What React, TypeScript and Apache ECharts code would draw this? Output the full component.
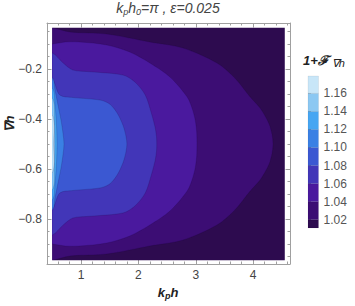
import React, { useEffect, useRef } from "react";
import * as echarts from "echarts";

// ---- data ----
const X_DATA = [0.5, 4.55];
const Y_DATA = [-0.965, -0.035];
const X_AXIS = [0.408, 4.641];
const Y_AXIS = [-0.98, -0.016];

const contourLevels = [1.02, 1.04, 1.06, 1.08, 1.1, 1.12, 1.14, 1.16];

const contour102: number[][] = [
  [0.5, -0.035], [0.81, -0.052], [1.45, -0.06], [2.2, -0.092], [2.78, -0.116], [3.37, -0.176],
  [3.68, -0.236], [3.94, -0.31], [4.12, -0.356], [4.245, -0.404], [4.29, -0.428], [4.33, -0.464], [4.345, -0.5],
  [4.33, -0.536], [4.29, -0.572], [4.245, -0.596], [4.12, -0.644], [3.94, -0.69], [3.68, -0.764], [3.37, -0.824],
  [2.78, -0.884], [2.2, -0.908], [1.45, -0.94], [0.81, -0.948], [0.5, -0.965],
];
const contour104: number[][] = [
  [0.5, -0.1], [0.72, -0.092], [0.98, -0.092], [1.45, -0.104], [1.85, -0.132], [2.2, -0.176],
  [2.55, -0.232], [2.85, -0.312], [2.94, -0.36], [2.99, -0.404], [3.015, -0.45], [3.02, -0.5],
  [3.015, -0.55], [2.99, -0.596], [2.94, -0.64], [2.85, -0.688], [2.55, -0.768], [2.2, -0.824],
  [1.85, -0.868], [1.45, -0.896], [0.98, -0.908], [0.72, -0.908], [0.5, -0.9],
];
const contour106: number[][] = [
  [0.5, -0.136], [0.69, -0.176], [0.86, -0.204], [1.16, -0.211], [1.73, -0.224], [1.94, -0.252],
  [2.12, -0.304], [2.22, -0.372], [2.29, -0.432], [2.315, -0.47], [2.32, -0.5], [2.315, -0.53], [2.29, -0.568],
  [2.22, -0.628], [2.12, -0.696], [1.94, -0.748], [1.73, -0.776], [1.16, -0.789], [0.86, -0.796], [0.69, -0.824], [0.5, -0.864],
];
const contour108: number[][] = [
  [0.5, -0.244], [0.63, -0.304], [0.86, -0.314], [1.33, -0.324], [1.5, -0.34], [1.63, -0.376],
  [1.73, -0.424], [1.78, -0.464], [1.8, -0.5], [1.78, -0.536], [1.73, -0.576], [1.63, -0.624],
  [1.5, -0.66], [1.33, -0.676], [0.86, -0.686], [0.63, -0.696], [0.5, -0.756],
];
const contour110: number[][] = [
  [0.5, -0.236], [0.547, -0.284], [0.599, -0.344], [0.652, -0.404], [0.686, -0.456], [0.704, -0.5],
  [0.686, -0.544], [0.652, -0.596], [0.599, -0.656], [0.547, -0.716], [0.5, -0.764],
];
const contour112: number[][] = [
  [0.5, -0.276], [0.547, -0.344], [0.573, -0.424], [0.582, -0.5], [0.573, -0.576], [0.547, -0.656], [0.5, -0.724],
];
const contour114: number[][] = [
  [0.5, -0.316], [0.535, -0.404], [0.544, -0.5], [0.535, -0.596], [0.5, -0.684],
];
const contour116: number[][] = [
  [0.5, -0.384], [0.523, -0.5], [0.5, -0.616],
];
const contours = [contour102, contour104, contour106, contour108, contour110, contour112, contour114, contour116];

const barEdges = [1.0108, 1.02, 1.04, 1.06, 1.08, 1.1, 1.12, 1.14, 1.16, 1.1792];
const barTicks = [1.02, 1.04, 1.06, 1.08, 1.1, 1.12, 1.14, 1.16];

const xMajor = [1, 2, 3, 4];
const xMinor = [0.6, 0.8, 1.2, 1.4, 1.6, 1.8, 2.2, 2.4, 2.6, 2.8, 3.2, 3.4, 3.6, 3.8, 4.2, 4.4, 4.6];
const yMajor = [-0.2, -0.4, -0.6, -0.8];
const yMinor = [-0.05, -0.1, -0.15, -0.25, -0.3, -0.35, -0.45, -0.5, -0.55, -0.65, -0.7, -0.75, -0.85, -0.9, -0.95];

// ---- styles ----
const bandColors = ["#2d0b4f", "#3c0d74", "#4a199e", "#4236b8", "#3b58d2", "#3a80e4", "#46a6f2", "#8cc8f2", "#c8e6f8"];
const FONT = "'Liberation Sans', Arial, sans-serif";
const FRAME = "#a0a0a0";
const TICKTXT = "#444";

function frameAxis(pos: string, ticks: number[], len: number, labels: boolean, line: boolean, range: number[], fmt?: (v: number) => string) {
  return {
    type: "value",
    gridIndex: 0,
    position: pos,
    min: range[0],
    max: range[1],
    axisLine: { show: line, onZero: false, lineStyle: { color: FRAME, width: 1 } },
    axisTick: { show: true, inside: true, length: len, customValues: ticks, lineStyle: { color: FRAME, width: 1 } },
    axisLabel: labels
      ? { show: true, customValues: ticks, color: TICKTXT, fontSize: 12, fontFamily: FONT, margin: 5, formatter: fmt }
      : { show: false },
    splitLine: { show: false },
  };
}

export default function App() {
  const ref = useRef<HTMLDivElement>(null);
  useEffect(() => {
    if (!ref.current) return;
    const chart = echarts.init(ref.current, null, { renderer: "svg" });
    const yFmt = (v: number) => (v < 0 ? "\u2212" : "") + Math.abs(v).toFixed(1);
    const xFmt = (v: number) => String(v);
    chart.setOption({
      animation: false,
      backgroundColor: "#fff",
      grid: [
        { left: 47, top: 23, width: 243, height: 241, show: false },
        { left: 308, top: 76, width: 10.5, height: 152, show: false },
      ],
      xAxis: [
        frameAxis("bottom", xMajor, 4.5, true, true, X_AXIS, xFmt),
        frameAxis("bottom", xMinor, 2.5, false, false, X_AXIS),
        frameAxis("top", xMajor, 4.5, false, true, X_AXIS),
        frameAxis("top", xMinor, 2.5, false, false, X_AXIS),
        { type: "value", gridIndex: 1, min: 0, max: 1, show: false },
      ],
      yAxis: [
        frameAxis("left", yMajor, 4.5, true, true, Y_AXIS, yFmt),
        frameAxis("left", yMinor, 2.5, false, false, Y_AXIS),
        frameAxis("right", yMajor, 4.5, false, true, Y_AXIS),
        frameAxis("right", yMinor, 2.5, false, false, Y_AXIS),
        {
          type: "value",
          gridIndex: 1,
          position: "right",
          min: barEdges[0],
          max: barEdges[barEdges.length - 1],
          axisLine: { show: false },
          axisTick: { show: true, inside: false, length: 3, customValues: barTicks, lineStyle: { color: "#888" } },
          axisLabel: { show: true, customValues: barTicks, color: "#555", fontSize: 12, fontFamily: FONT, margin: 5, formatter: (v: number) => v.toFixed(2) },
          splitLine: { show: false },
        },
      ],
      series: [
        {
          type: "custom",
          coordinateSystem: "cartesian2d",
          xAxisIndex: 0,
          yAxisIndex: 0,
          clip: false,
          silent: true,
          data: [0, ...contourLevels].map((_, i) => [X_DATA[0], Y_DATA[0], i]),
          renderItem: (params: any, api: any) => {
            const i = params.dataIndex;
            const tl = api.coord([X_DATA[0], Y_DATA[1]]);
            const br = api.coord([X_DATA[1], Y_DATA[0]]);
            const clip = { x: tl[0], y: tl[1], width: br[0] - tl[0], height: br[1] - tl[1] };
            if (i === 0) {
              return { type: "rect", shape: clip, style: { fill: bandColors[0] }, z2: 0 };
            }
            const pts = contours[i - 1];
            const padX = X_DATA[0] - 0.25;
            const all = [[padX, pts[0][1]], ...pts, [padX, pts[pts.length - 1][1]]].map((p) => api.coord(p));
            return {
              type: "polygon",
              z2: i,
              shape: { points: all, smooth: 0.3 },
              style: { fill: bandColors[i], stroke: "rgba(20,0,50,0.25)", lineWidth: 0.6 },
              clipPath: { type: "rect", shape: clip },
            };
          },
        },
        {
          type: "custom",
          coordinateSystem: "cartesian2d",
          xAxisIndex: 4,
          yAxisIndex: 4,
          silent: true,
          data: bandColors.map((_, i) => [0.5, barEdges[i]]),
          renderItem: (params: any, api: any) => {
            const i = params.dataIndex;
            const p1 = api.coord([0, barEdges[i + 1]]);
            const p2 = api.coord([1, barEdges[i]]);
            return {
              type: "rect",
              shape: { x: p1[0], y: p1[1], width: p2[0] - p1[0], height: p2[1] - p1[1] },
              style: { fill: bandColors[i], stroke: "rgba(0,0,0,0.12)", lineWidth: 0.5 },
            };
          },
        },
      ],
      graphic: [
        {
          type: "text",
          x: 168,
          y: 8,
          style: {
            text: "{i|k}{s|p}{i|h}{s|0}{i|=\u03c0 , \u03b5=0.025}",
            align: "center",
            verticalAlign: "middle",
            fontFamily: FONT,
            rich: {
              i: { fontSize: 14, fontStyle: "italic", lineHeight: 17, fill: "#444", fontFamily: FONT },
              s: { fontSize: 9, fontStyle: "italic", lineHeight: 9, verticalAlign: "bottom", fill: "#444", fontFamily: FONT },
            },
          },
        },
        {
          type: "text",
          x: 168,
          y: 292,
          style: {
            text: "{b|k}{s|p}{b|h}",
            align: "center",
            verticalAlign: "middle",
            fontFamily: FONT,
            rich: {
              b: { fontSize: 13, fontStyle: "italic", fontWeight: "bold", lineHeight: 17, fill: "#222", fontFamily: FONT },
              s: { fontSize: 9, fontStyle: "italic", fontWeight: "bold", lineHeight: 9, verticalAlign: "bottom", fill: "#222", fontFamily: FONT },
            },
          },
        },
        {
          type: "text",
          x: 9,
          y: 124,
          rotation: Math.PI / 2,
          style: {
            text: "\u2207h",
            align: "center",
            verticalAlign: "middle",
            fontSize: 13,
            fontWeight: "bold",
            fontStyle: "italic",
            fill: "#222",
            fontFamily: FONT,
          },
        },
        {
          type: "text",
          x: 303,
          y: 60,
          style: {
            text: "{b|1+\u2131}{s| \u2207h}",
            align: "left",
            verticalAlign: "middle",
            fontFamily: FONT,
            rich: {
              b: { fontSize: 13, fontStyle: "italic", fontWeight: "bold", lineHeight: 17, fill: "#222", fontFamily: FONT },
              s: { fontSize: 11, fontStyle: "italic", lineHeight: 11, verticalAlign: "bottom", fill: "#222", fontFamily: FONT },
            },
          },
        },
      ],
    });
    return () => chart.dispose();
  }, []);
  return <div ref={ref} style={{ position: "absolute", left: 0, top: 0, width: 355, height: 306 }} />;
}
